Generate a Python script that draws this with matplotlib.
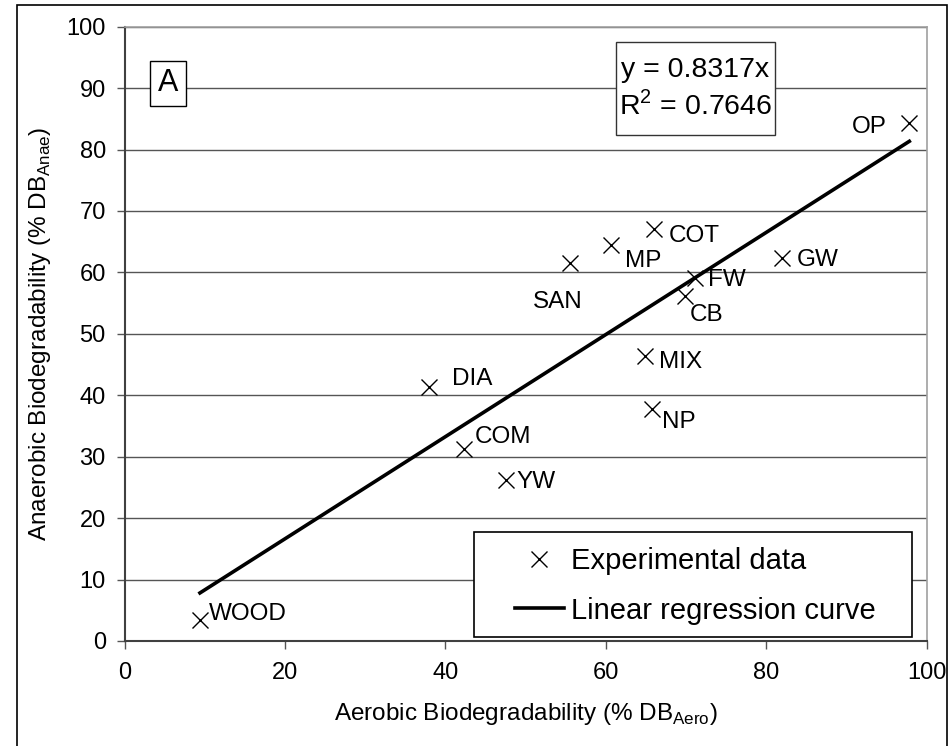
import matplotlib.pyplot as plt
import matplotlib.patches as patches
import numpy as np

plt.rcParams['font.family'] = ['Liberation Sans', 'DejaVu Sans']
plt.rcParams['mathtext.fontset'] = 'custom'
plt.rcParams['mathtext.rm'] = 'Liberation Sans'

# 数据：好氧 / 厌氧 生物降解率
names = ['OP', 'COT', 'MP', 'GW', 'FW', 'CB', 'SAN', 'MIX', 'NP', 'DIA', 'COM', 'YW', 'WOOD']
aero = [97.8, 66.0, 60.6, 81.9, 71.1, 69.8, 55.5, 64.8, 65.7, 37.9, 42.3, 47.5, 9.4]
anae = [84.3, 67.1, 64.5, 62.3, 59.1, 56.1, 61.5, 46.4, 37.7, 41.4, 31.2, 26.2, 3.4]
slope = 0.8317
r2 = 0.7646

# 标签偏移（像素）：(dx, dy, ha)
label_offsets = {
    'OP': (-23, -10, 'right'), 'COT': (15, -13, 'left'), 'MP': (14, -22, 'left'),
    'GW': (15, -8, 'left'), 'FW': (13, -8, 'left'), 'CB': (5, -25, 'left'),
    'SAN': (-12, -45, 'center'), 'MIX': (14, -12, 'left'), 'NP': (10, -19, 'left'),
    'DIA': (23, 2, 'left'), 'COM': (11, 6, 'left'), 'YW': (11, -8, 'left'),
    'WOOD': (9, 0, 'left'),
}

fig = plt.figure(figsize=(9.52, 7.46), dpi=100)
ax = fig.add_axes([0.1308, 0.1408, 0.8429, 0.8234])

# 外框
fig.patches.append(patches.Rectangle((17 / 952, -0.02), 930 / 952, 1.02 - 5 / 746,
                                     transform=fig.transFigure, fill=False,
                                     edgecolor='black', linewidth=1.2, clip_on=False))

ax.set_xlim(0, 100)
ax.set_ylim(0, 100)
ax.set_xticks(np.arange(0, 101, 20))
ax.set_yticks(np.arange(0, 101, 10))
ax.yaxis.grid(True, color='#555555', linewidth=1.0)
ax.set_axisbelow(True)

for s in ['left', 'bottom']:
    ax.spines[s].set_color('#404040')
    ax.spines[s].set_linewidth(1.5)
for s in ['top', 'right']:
    ax.spines[s].set_color('#a0a0a0')
    ax.spines[s].set_linewidth(1.2)

ax.tick_params(axis='both', direction='out', length=5.5, width=1, color='#555555',
               labelsize=17)
ax.tick_params(axis='y', pad=8)
ax.tick_params(axis='x', pad=10)

# 散点与回归线
sc, = ax.plot(aero, anae, linestyle='none', marker='x', markersize=11,
              markeredgewidth=1.0, color='black', label='Experimental data')
xs = np.array([min(aero), max(aero)])
ln, = ax.plot(xs, slope * xs, color='black', linewidth=2.6, label='Linear regression curve')

for n, x, y in zip(names, aero, anae):
    dx, dy, ha = label_offsets[n]
    ax.annotate(n, (x, y), xytext=(dx, dy), textcoords='offset pixels',
                ha=ha, va='baseline', fontsize=17.5)

ax.set_xlabel(r'Aerobic Biodegradability (% DB$_{\mathregular{Aero}}$)', fontsize=17.5,
              labelpad=12)
ax.set_ylabel(r'Anaerobic Biodegradability (% DB$_{\mathregular{Anae}}$)', fontsize=17.5,
              labelpad=10)

# 方程框
ax.add_patch(patches.Rectangle((0.6121, 0.8237), 0.1985, 0.1519, transform=ax.transAxes,
                               facecolor='white', edgecolor='#333333', linewidth=1, zorder=3))
ax.text(0.7113, 0.8997, f'y = {slope}x\nR$^{{2}}$ = {r2}',
        transform=ax.transAxes, ha='center', va='center', fontsize=20.5, linespacing=1.3,
        zorder=4)

# “A”标记
ax.text(0.0542, 0.908, 'A', transform=ax.transAxes, ha='center', va='center', fontsize=22,
        bbox=dict(boxstyle='square,pad=0.25', facecolor='white', edgecolor='black', linewidth=1))

# 图例（手动框）
ax.add_patch(patches.Rectangle((0.4355, 0.0065), 0.5455, 0.1709, transform=ax.transAxes,
                               facecolor='white', edgecolor='black', linewidth=1.2, zorder=3))
leg = ax.legend(handles=[sc, ln], loc='center left', bbox_to_anchor=(0.4866, 0.090),
                frameon=False, fontsize=21, borderpad=0, borderaxespad=0,
                handlelength=1.68, handletextpad=0.25, labelspacing=0.75)
leg.set_zorder(4)

fig.savefig('out.png', dpi=100)
